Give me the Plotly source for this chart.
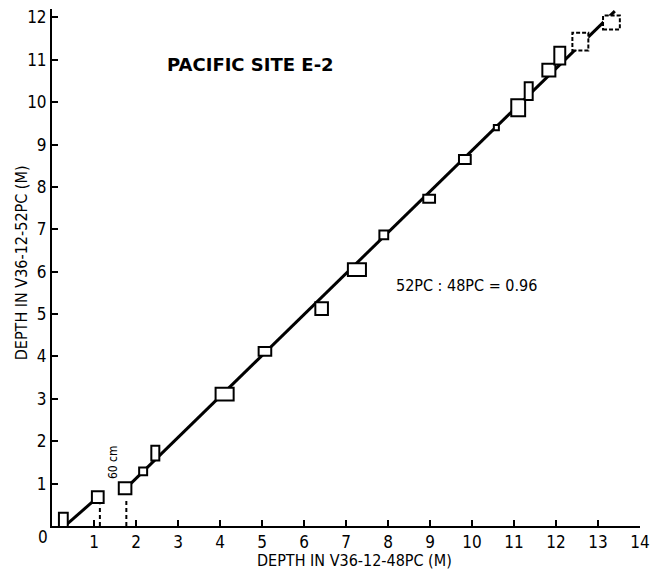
import plotly.graph_objects as go

# ---- data ----
box_x = [0.27, 1.09, 1.74, 2.17, 2.46, 4.11, 5.07, 6.42, 7.26, 7.90, 8.98, 9.83, 10.58, 11.10, 11.35, 11.83, 12.09, 12.58, 13.32]
box_y = [0.12, 0.68, 0.89, 1.29, 1.72, 3.11, 4.12, 5.13, 6.05, 6.87, 7.72, 8.65, 9.40, 9.87, 10.26, 10.76, 11.10, 11.43, 11.88]
box_w = [0.21, 0.28, 0.30, 0.19, 0.19, 0.43, 0.30, 0.30, 0.43, 0.21, 0.28, 0.28, 0.12, 0.33, 0.19, 0.31, 0.26, 0.38, 0.40]
box_h = [0.38, 0.28, 0.28, 0.18, 0.35, 0.30, 0.21, 0.30, 0.30, 0.21, 0.19, 0.21, 0.12, 0.40, 0.42, 0.30, 0.42, 0.42, 0.33]
box_dashed = [False] * 17 + [True, True]

seg1_x = [0.33, 1.09]
seg1_y = [0.02, 0.68]
seg2_x = [1.74, 13.40]
seg2_y = [0.87, 12.15]

gap1_x = [1.14, 1.14]
gap1_y = [0.0, 0.50]
gap2_x = [1.77, 1.77]
gap2_y = [0.0, 0.66]

x_ticks = list(range(1, 15))
y_ticks = list(range(1, 13))

NARROW = "DejaVu Sans Condensed, Roboto Condensed, sans-serif"

fig = go.Figure()
for xs, ys in [(seg1_x, seg1_y), (seg2_x, seg2_y)]:
    fig.add_trace(go.Scatter(x=xs, y=ys, mode="lines",
                             line=dict(color="black", width=3), showlegend=False))
for xs, ys in [(gap1_x, gap1_y), (gap2_x, gap2_y)]:
    fig.add_trace(go.Scatter(x=xs, y=ys, mode="lines",
                             line=dict(color="black", width=2, dash="4px,3px"), showlegend=False))

for cx, cy, w, h, d in zip(box_x, box_y, box_w, box_h, box_dashed):
    fig.add_shape(type="rect", xref="x", yref="y",
                  x0=cx - w / 2, x1=cx + w / 2, y0=cy - h / 2, y1=cy + h / 2,
                  line=dict(color="black", width=2, dash="4px,2px" if d else "solid"),
                  fillcolor="white", layer="above")

fig.update_layout(
    width=657, height=571,
    margin=dict(l=52, r=13, t=7, b=45),
    paper_bgcolor="white", plot_bgcolor="white",
    showlegend=False,
    xaxis=dict(range=[0, 14], tickvals=x_ticks, ticktext=[str(v) for v in x_ticks],
               showgrid=False, zeroline=False, showline=True, linecolor="black", linewidth=2,
               ticks="inside", ticklen=6, tickwidth=2, tickcolor="black",
               tickfont=dict(family=NARROW, size=17, color="black")),
    yaxis=dict(range=[0, 12.2], tickvals=y_ticks, ticktext=[str(v) for v in y_ticks],
               showgrid=False, zeroline=False, showline=True, linecolor="black", linewidth=2,
               ticks="inside", ticklen=6, tickwidth=2, tickcolor="black",
               tickfont=dict(family=NARROW, size=17, color="black")),
    annotations=[
        dict(text="PACIFIC SITE E-2", xref="x", yref="y", x=4.73, y=10.9, showarrow=False,
             xanchor="center", yanchor="middle",
             font=dict(family="DejaVu Sans, sans-serif", size=18, color="black", weight="bold")),
        dict(text="52PC : 48PC = 0.96", xref="x", yref="y", x=9.88, y=5.68, showarrow=False,
             xanchor="center", yanchor="middle",
             font=dict(family=NARROW, size=16, color="black")),
        dict(text="60 cm", xref="x", yref="y", x=1.44, y=1.52, showarrow=False, textangle=-90,
             xanchor="center", yanchor="middle",
             font=dict(family=NARROW, size=12, color="black")),
        dict(text="0", xref="paper", yref="paper", x=0, y=0, xshift=-9, yshift=-11,
             xanchor="center", yanchor="middle",
             showarrow=False, font=dict(family=NARROW, size=17, color="black")),
        dict(text="DEPTH IN V36-12-48PC (M)", xref="x", yref="paper", x=7.2, y=0, yshift=-34,
             xanchor="center", yanchor="middle",
             showarrow=False, font=dict(family=NARROW, size=16, color="black")),
        dict(text="DEPTH IN V36-12-52PC (M)", xref="paper", yref="y", x=0, xshift=-31, y=6.2,
             xanchor="center", yanchor="middle",
             showarrow=False, textangle=-90, font=dict(family=NARROW, size=16, color="black")),
    ],
)

fig.write_html("out.html")
